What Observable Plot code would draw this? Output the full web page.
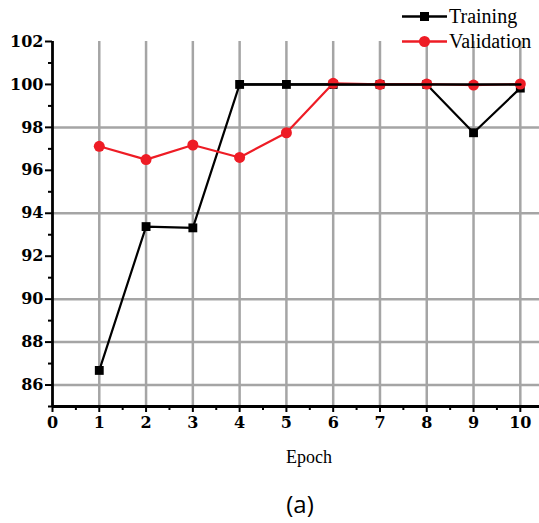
<!DOCTYPE html>
<html><head><meta charset="utf-8">
<script src="https://cdn.jsdelivr.net/npm/d3@7"></script>
<script src="https://cdn.jsdelivr.net/npm/@observablehq/plot@0.6"></script>
<style>
body{margin:0;background:#fff}
#wrap{position:relative;width:539px;height:523px;overflow:hidden}
#legend{position:absolute;left:402px;top:4px;font-family:"Liberation Serif",serif;font-size:20px;line-height:25px;color:#000}
#legend div{display:flex;align-items:center;height:25px}
#legend svg{margin-right:2px}
#xlabel{position:absolute;left:0;width:618px;top:447px;text-align:center;font-family:"Liberation Serif",serif;font-size:18px}
#cap{position:absolute;left:0;width:600px;top:490px;line-height:28px;text-align:center;font-family:"Open Sans","Liberation Sans",sans-serif;font-size:24px}
</style>
</head><body>
<div id="wrap"></div>
<script>
const epochs = [1, 2, 3, 4, 5, 6, 7, 8, 9, 10];
const training = [86.68, 93.38, 93.32, 100, 100, 100, 100, 100, 97.75, 99.83];
const validation = [97.12, 96.5, 97.18, 96.6, 97.75, 100.05, 100, 100.02, 99.97, 100.02];
const plateauEpochs = [4, 10];
const plateauValues = [100, 100];
const seriesNames = ["Training", "Validation"];
const seriesColors = ["#000000", "#ee1c25"];
const xMajorTicks = [0, 1, 2, 3, 4, 5, 6, 7, 8, 9, 10];
const xMinorTicks = [0.5, 1.5, 2.5, 3.5, 4.5, 5.5, 6.5, 7.5, 8.5, 9.5];
const yMajorTicks = [86, 88, 90, 92, 94, 96, 98, 100, 102];
const yMinorTicks = [85, 87, 89, 91, 93, 95, 97, 99, 101];
const gridXValues = [1, 2, 3, 4, 5, 6, 7, 8, 9, 10];
const gridYValues = [86, 88, 90, 94, 98];
const xLabel = "Epoch";
const caption = "(a)";

const tData = epochs.map((e, i) => ({epoch: e, value: training[i]}));
const vData = epochs.map((e, i) => ({epoch: e, value: validation[i]}));
const pData = plateauEpochs.map((e, i) => ({epoch: e, value: plateauValues[i]}));

const gridColor = "#a5a5a5";
const tickFont = {fontFamily: "DejaVu Serif", fontWeight: "bold", fontSize: 16};

const chart = Plot.plot({
  width: 539,
  height: 523,
  marginTop: 41,
  marginBottom: 117,
  marginLeft: 52,
  marginRight: 0,
  x: {domain: [0, 10.41]},
  y: {domain: [85, 102]},
  style: {background: "white", overflow: "visible"},
  marks: [
    Plot.ruleX(gridXValues, {stroke: gridColor, strokeWidth: 2.5}),
    Plot.ruleY(gridYValues, {stroke: gridColor, strokeWidth: 2.5}),
    Plot.line(tData, {x: "epoch", y: "value", stroke: seriesColors[0], strokeWidth: 2.2}),
    Plot.dot(tData, {x: "epoch", y: "value", fill: seriesColors[0], r: 5, symbol: "square"}),
    Plot.line(vData, {x: "epoch", y: "value", stroke: seriesColors[1], strokeWidth: 2.2}),
    Plot.dot(vData, {x: "epoch", y: "value", fill: seriesColors[1], r: 5.5, symbol: "circle"}),
    Plot.line(pData, {x: "epoch", y: "value", stroke: seriesColors[0], strokeWidth: 2.6}),
    Plot.axisX(xMajorTicks, {tickSize: 6, strokeWidth: 2, tickPadding: 4, label: null, ...tickFont, fill: "#000"}),
    Plot.axisX(xMinorTicks, {tickSize: 4, strokeWidth: 2, text: null, label: null}),
    Plot.axisY(yMajorTicks, {tickSize: 7, strokeWidth: 2, tickPadding: 2, label: null, ...tickFont, fill: "#000"}),
    Plot.axisY(yMinorTicks, {tickSize: 4, strokeWidth: 2, text: null, label: null}),
    Plot.ruleX([0], {stroke: "#000", strokeWidth: 2.8}),
    Plot.ruleY([85], {stroke: "#000", strokeWidth: 2.8})
  ]
});

const wrap = document.getElementById("wrap");
wrap.appendChild(chart);

const legend = document.createElement("div");
legend.id = "legend";
seriesNames.forEach((name, i) => {
  const row = document.createElement("div");
  const marker = i === 0
    ? `<rect x="18" y="5" width="9" height="9" fill="${seriesColors[i]}"/>`
    : `<circle cx="22.5" cy="9.5" r="5.5" fill="${seriesColors[i]}"/>`;
  row.innerHTML = `<svg width="45" height="19"><line x1="0" x2="45" y1="9.5" y2="9.5" stroke="${seriesColors[i]}" stroke-width="2.5"/>${marker}</svg><span>${name}</span>`;
  legend.appendChild(row);
});
wrap.appendChild(legend);

const xl = document.createElement("div");
xl.id = "xlabel"; xl.textContent = xLabel; wrap.appendChild(xl);
const cap = document.createElement("div");
cap.id = "cap"; cap.textContent = caption; wrap.appendChild(cap);
</script>
</body></html>
